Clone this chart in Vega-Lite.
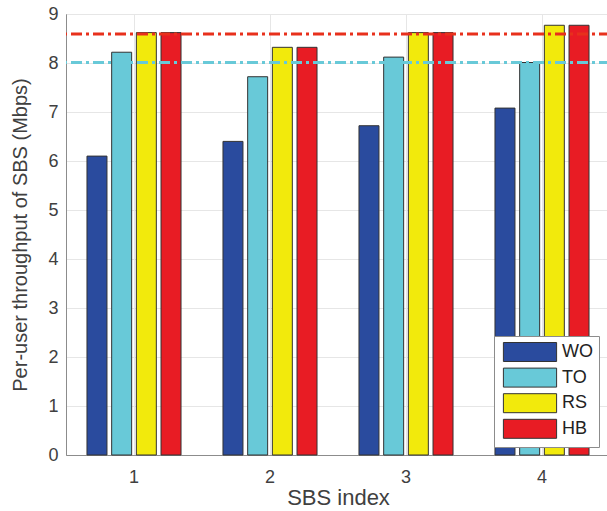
{
  "$schema": "https://vega.github.io/schema/vega-lite/v6.json",
  "width": 544,
  "height": 441,
  "autosize": "none",
  "padding": {"left": 66, "top": 14, "right": 0, "bottom": 56},
  "background": "white",
  "config": {
    "font": "Liberation Sans",
    "view": {"stroke": "#8c8c8c", "strokeWidth": 1}
  },
  "datasets": {
    "bars": [
      {"sbs": "1", "series": "WO", "value": 6.10},
      {"sbs": "1", "series": "TO", "value": 8.22},
      {"sbs": "1", "series": "RS", "value": 8.62},
      {"sbs": "1", "series": "HB", "value": 8.62},
      {"sbs": "2", "series": "WO", "value": 6.40},
      {"sbs": "2", "series": "TO", "value": 7.72},
      {"sbs": "2", "series": "RS", "value": 8.32},
      {"sbs": "2", "series": "HB", "value": 8.32},
      {"sbs": "3", "series": "WO", "value": 6.72},
      {"sbs": "3", "series": "TO", "value": 8.12},
      {"sbs": "3", "series": "RS", "value": 8.62},
      {"sbs": "3", "series": "HB", "value": 8.62},
      {"sbs": "4", "series": "WO", "value": 7.08},
      {"sbs": "4", "series": "TO", "value": 8.01},
      {"sbs": "4", "series": "RS", "value": 8.77},
      {"sbs": "4", "series": "HB", "value": 8.77}
    ],
    "lines": [
      {"name": "HB", "value": 8.59},
      {"name": "TO", "value": 8.01}
    ]
  },
  "layer": [
    {
      "data": {"name": "bars"},
      "mark": {"type": "bar", "stroke": "#333333", "strokeWidth": 1},
      "encoding": {
        "x": {
          "field": "sbs",
          "type": "ordinal",
          "scale": {"paddingInner": 0, "paddingOuter": 0},
          "axis": {
            "title": "SBS index",
            "labelAngle": 0,
            "bandPosition": 0.5,
            "grid": true,
            "gridColor": "#e6e6e6",
            "ticks": false,
            "tickSize": 0,
            "domainColor": "#8c8c8c",
            "labelFont": "Liberation Sans",
            "labelFontSize": 18,
            "labelColor": "#404040",
            "labelPadding": 13,
            "titleFont": "Liberation Sans",
            "titleFontSize": 22,
            "titleFontWeight": "normal",
            "titleColor": "#404040",
            "titlePadding": 1
          }
        },
        "xOffset": {
          "field": "series",
          "type": "nominal",
          "sort": ["WO", "TO", "RS", "HB"],
          "scale": {"paddingInner": 0.19, "paddingOuter": 0.85}
        },
        "y": {
          "field": "value",
          "type": "quantitative",
          "scale": {"domain": [0, 9], "nice": false},
          "axis": {
            "title": "Per-user throughput of SBS (Mbps)",
            "values": [0, 1, 2, 3, 4, 5, 6, 7, 8, 9],
            "grid": true,
            "gridColor": "#e6e6e6",
            "ticks": false,
            "tickSize": 0,
            "domainColor": "#8c8c8c",
            "labelFont": "Liberation Sans",
            "labelFontSize": 18,
            "labelColor": "#404040",
            "labelPadding": 8,
            "titleFont": "Liberation Sans",
            "titleFontSize": 20,
            "titleFontWeight": "normal",
            "titleColor": "#404040",
            "titlePadding": 17
          }
        },
        "color": {
          "field": "series",
          "type": "nominal",
          "sort": ["WO", "TO", "RS", "HB"],
          "scale": {
            "domain": ["WO", "TO", "RS", "HB"],
            "range": ["#2a4b9e", "#68c9d8", "#f2ea0c", "#e81c24"]
          },
          "legend": {
            "title": null,
            "orient": "none",
            "legendX": 428,
            "legendY": 322,
            "fillColor": "white",
            "strokeColor": "#8c8c8c",
            "padding": 6,
            "symbolType": "M-2.8,-1H2.8V1H-2.8Z",
            "symbolSize": 361,
            "symbolStrokeColor": "#333333",
            "symbolStrokeWidth": 1,
            "symbolOffset": 20,
            "labelOffset": 22,
            "labelFont": "Liberation Sans",
            "labelFontSize": 18,
            "labelColor": "#222222",
            "rowPadding": 1.6
          }
        }
      }
    },
    {
      "data": {"name": "lines"},
      "transform": [{"filter": "datum.name === 'HB'"}],
      "mark": {"type": "rule", "color": "#e8301c", "strokeWidth": 3, "strokeDash": [11, 4, 3, 4]},
      "encoding": {
        "y": {"field": "value", "type": "quantitative"}
      }
    },
    {
      "data": {"name": "lines"},
      "transform": [{"filter": "datum.name === 'TO'"}],
      "mark": {"type": "rule", "color": "#68c9d8", "strokeWidth": 3, "strokeDash": [11, 4, 3, 4]},
      "encoding": {
        "y": {"field": "value", "type": "quantitative"}
      }
    }
  ]
}
